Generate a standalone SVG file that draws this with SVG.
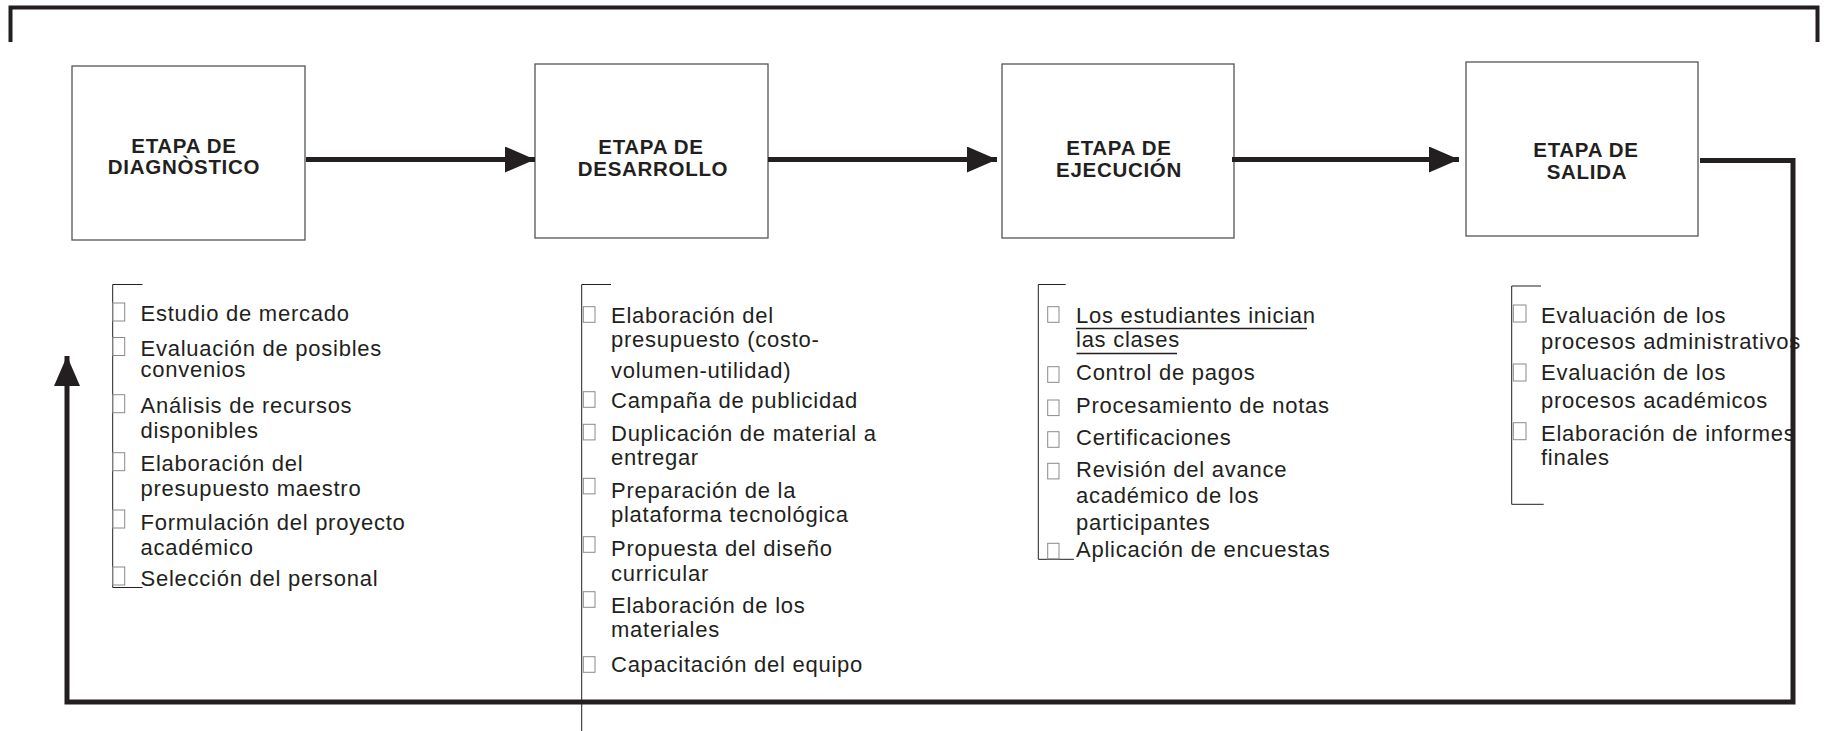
<svg xmlns="http://www.w3.org/2000/svg" width="1824" height="731" viewBox="0 0 1824 731">
<style>
.box{fill:#fff;stroke:#555;stroke-width:1.3}
.ttl{font-family:"Liberation Sans",Arial,sans-serif;font-weight:bold;font-size:20.5px;fill:#231f20;text-anchor:middle;letter-spacing:0.7px}
.it{font-family:"Liberation Sans",Arial,sans-serif;font-size:22px;fill:#231f20;letter-spacing:0.75px}
.bul{fill:none;stroke:#8a8a8a;stroke-width:1}
.brk{fill:none;stroke:#231f20;stroke-width:1}
.con{fill:none;stroke:#231f20;stroke-width:5}
.frame{fill:none;stroke:#231f20;stroke-width:4}
.ul{stroke:#231f20;stroke-width:1.6}
</style>
<defs>
<marker id="ah" viewBox="0 0 30 26" refX="30" refY="13" markerWidth="30" markerHeight="26" markerUnits="userSpaceOnUse" orient="auto">
<path d="M0,0 L30,13 L0,26 Z" fill="#231f20"/>
</marker>
</defs>
<rect width="1824" height="731" fill="#fff"/>

<g id="frame-top">
<path class="frame" d="M10.5,42 V7.5 H1817.5 V42"/>
</g>

<g id="node-diagnostico">
<rect class="box" x="72" y="66" width="233" height="174"/>
<text class="ttl" x="184" y="153">ETAPA DE</text>
<text class="ttl" x="184" y="173.5">DIAGNÒSTICO</text>
</g>
<g id="node-desarrollo">
<rect class="box" x="535" y="64" width="233" height="174"/>
<text class="ttl" x="651" y="154">ETAPA DE</text>
<text class="ttl" x="653" y="176">DESARROLLO</text>
</g>
<g id="node-ejecucion">
<rect class="box" x="1002" y="64" width="232" height="174"/>
<text class="ttl" x="1119" y="155">ETAPA DE</text>
<text class="ttl" x="1119" y="177">EJECUCIÓN</text>
</g>
<g id="node-salida">
<rect class="box" x="1466" y="62" width="232" height="174"/>
<text class="ttl" x="1586" y="157">ETAPA DE</text>
<text class="ttl" x="1587" y="179">SALIDA</text>
</g>

<g id="list-diagnostico">
<path class="brk" d="M142.5,284.5 H112.7 V587.5 H142.5"/>
<rect class="bul" x="112.7" y="303" width="12" height="18"/>
<rect class="bul" x="112.7" y="337.5" width="12" height="18"/>
<rect class="bul" x="112.7" y="394.7" width="12" height="18"/>
<rect class="bul" x="112.7" y="452.7" width="12" height="18"/>
<rect class="bul" x="112.7" y="510" width="12" height="18"/>
<rect class="bul" x="112.7" y="567" width="12" height="18"/>
<text class="it" x="140.5" y="321">Estudio de mercado</text>
<text class="it" x="140.5" y="355.7">Evaluación de posibles</text>
<text class="it" x="140.5" y="377.3">convenios</text>
<text class="it" x="140.5" y="412.7">Análisis de recursos</text>
<text class="it" x="140.5" y="438.3">disponibles</text>
<text class="it" x="140.5" y="470.7">Elaboración del</text>
<text class="it" x="140.5" y="495.7">presupuesto maestro</text>
<text class="it" x="140.5" y="529.5">Formulación del proyecto</text>
<text class="it" x="140.5" y="554.5">académico</text>
<text class="it" x="140.5" y="585.7">Selección del personal</text>
</g>

<g id="list-desarrollo">
<path class="brk" d="M611,284.5 H581.7 V731"/>
<rect class="bul" x="583.3" y="306.7" width="11.7" height="15.6"/>
<rect class="bul" x="583.3" y="391.7" width="11.7" height="15.6"/>
<rect class="bul" x="583.3" y="424.3" width="11.7" height="15.6"/>
<rect class="bul" x="583.3" y="478.3" width="11.7" height="15.6"/>
<rect class="bul" x="583.3" y="536.7" width="11.7" height="15.6"/>
<rect class="bul" x="583.3" y="591.7" width="11.7" height="15.6"/>
<rect class="bul" x="583.3" y="656.7" width="11.7" height="15.6"/>
<text class="it" x="611" y="323.3">Elaboración del</text>
<text class="it" x="611" y="347.3">presupuesto (costo-</text>
<text class="it" x="611" y="377.7">volumen-utilidad)</text>
<text class="it" x="611" y="408.3">Campaña de publicidad</text>
<text class="it" x="611" y="441">Duplicación de material a</text>
<text class="it" x="611" y="465">entregar</text>
<text class="it" x="611" y="497.7">Preparación de la</text>
<text class="it" x="611" y="521.7">plataforma tecnológica</text>
<text class="it" x="611" y="556">Propuesta del diseño</text>
<text class="it" x="611" y="580.7">curricular</text>
<text class="it" x="611" y="613.3">Elaboración de los</text>
<text class="it" x="611" y="636.7">materiales</text>
<text class="it" x="611" y="672.3">Capacitación del equipo</text>
</g>

<g id="list-ejecucion">
<path class="brk" d="M1065.7,284.5 H1038.3 V559.3 H1074"/>
<rect class="bul" x="1047.7" y="306.7" width="11.3" height="15.6"/>
<rect class="bul" x="1047.7" y="366.7" width="11.3" height="15.6"/>
<rect class="bul" x="1047.7" y="400" width="11.3" height="15.6"/>
<rect class="bul" x="1047.7" y="431.7" width="11.3" height="15.6"/>
<rect class="bul" x="1047.7" y="463.3" width="11.3" height="15.6"/>
<rect class="bul" x="1047.7" y="543.3" width="11.3" height="15.6"/>
<text class="it" x="1076" y="323.3">Los estudiantes inician</text>
<line class="ul" x1="1076" y1="328.5" x2="1307" y2="328.5"/>
<text class="it" x="1076" y="347.3">las clases</text>
<line class="ul" x1="1076.5" y1="353.5" x2="1177" y2="353.5"/>
<text class="it" x="1076" y="380">Control de pagos</text>
<text class="it" x="1076" y="413.3">Procesamiento de notas</text>
<text class="it" x="1076" y="445">Certificaciones</text>
<text class="it" x="1076" y="476.7">Revisión del avance</text>
<text class="it" x="1076" y="503.3">académico de los</text>
<text class="it" x="1076" y="530">participantes</text>
<text class="it" x="1076" y="556.7">Aplicación de encuestas</text>
</g>

<g id="list-salida">
<path class="brk" d="M1541,286 H1511.7 V504.3 H1543.7"/>
<rect class="bul" x="1513.3" y="305" width="12.7" height="17"/>
<rect class="bul" x="1513.3" y="364" width="12.7" height="17"/>
<rect class="bul" x="1513.3" y="422.7" width="12.7" height="17"/>
<text class="it" x="1541" y="323.3">Evaluación de los</text>
<text class="it" x="1541" y="349">procesos administrativos</text>
<text class="it" x="1541" y="380">Evaluación de los</text>
<text class="it" x="1541" y="408.3">procesos académicos</text>
<text class="it" x="1541" y="441">Elaboración de informes</text>
<text class="it" x="1541" y="465">finales</text>
</g>

<g id="connectors">
<line class="con" x1="306" y1="159.5" x2="535" y2="159.5" marker-end="url(#ah)"/>
<line class="con" x1="768" y1="159.5" x2="997" y2="159.5" marker-end="url(#ah)"/>
<line class="con" x1="1232" y1="159.5" x2="1459" y2="159.5" marker-end="url(#ah)"/>
<path class="con" d="M1700,160.5 H1793 V702 H67 V356" marker-end="url(#ah)"/>
</g>
</svg>
